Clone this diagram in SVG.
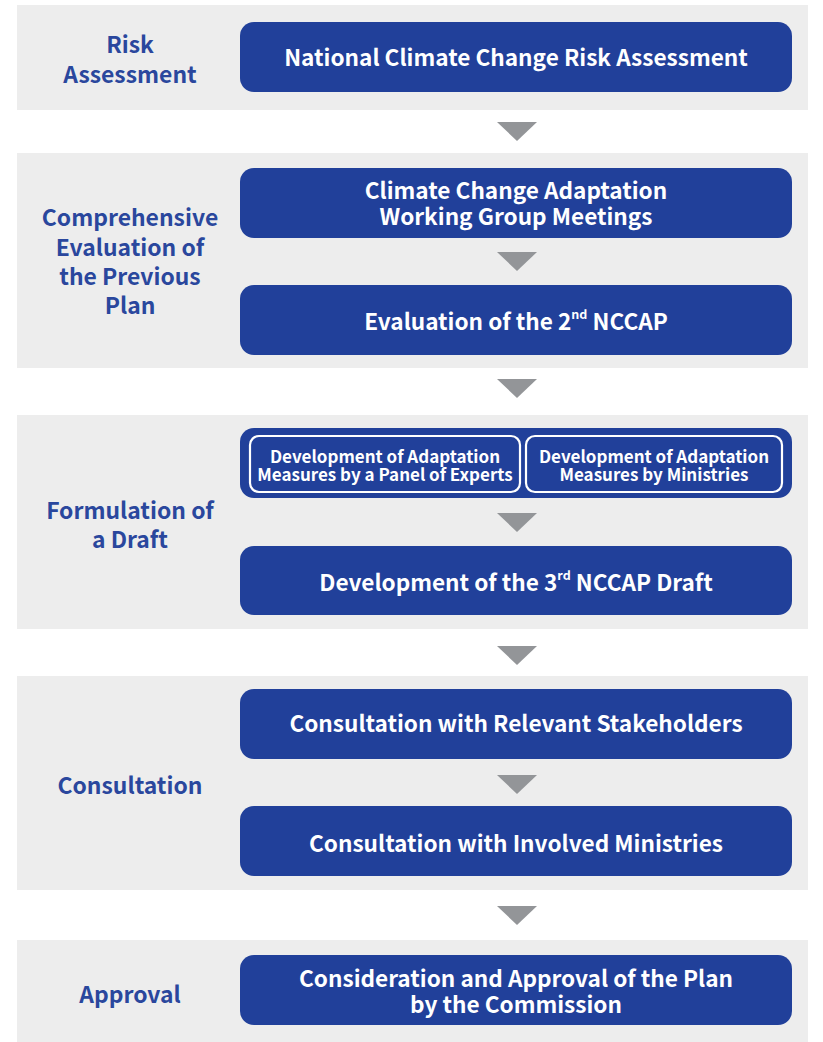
<svg xmlns="http://www.w3.org/2000/svg" width="823" height="1042" viewBox="0 0 823 1042">
<defs>
<style>
.panel{fill:#ededed}
.box{fill:#21409a}
.inner{fill:none;stroke:#ffffff;stroke-width:2.2}
.bt{font-family:"Noto Sans CJK KR","Noto Sans",sans-serif;font-weight:700;font-size:22.6px;fill:#ffffff;text-anchor:middle;dominant-baseline:central}
.st{font-family:"Noto Sans CJK KR","Noto Sans",sans-serif;font-weight:700;font-size:17px;fill:#ffffff;text-anchor:middle;dominant-baseline:central}
.lb{font-family:"Noto Sans CJK KR","Noto Sans",sans-serif;font-weight:700;font-size:22.9px;fill:#2a479d;text-anchor:middle;dominant-baseline:central}
.sup{font-size:12.5px}
.arr{fill:#939598}
</style>
</defs>
<g id="panels">
<rect class="panel" x="17" y="5" width="791" height="105"/>
<rect class="panel" x="17" y="153" width="791" height="215"/>
<rect class="panel" x="17" y="415" width="791" height="214"/>
<rect class="panel" x="17" y="676" width="791" height="214"/>
<rect class="panel" x="17" y="940" width="791" height="102"/>
</g>
<g id="stage-labels">
<text class="lb" x="130" y="43">Risk<tspan x="130" dy="30">Assessment</tspan></text>
<text class="lb" x="130" y="216">Comprehensive<tspan x="130" dy="29.5">Evaluation of</tspan><tspan x="130" dy="29.5">the Previous</tspan><tspan x="130" dy="29">Plan</tspan></text>
<text class="lb" x="130" y="509">Formulation of<tspan x="130" dy="29">a Draft</tspan></text>
<text class="lb" x="130" y="784">Consultation</text>
<text class="lb" x="130" y="993">Approval</text>
</g>
<g id="connectors">
<polygon class="arr" points="497,122 537,122 517,141"/>
<polygon class="arr" points="497,252 537,252 517,271"/>
<polygon class="arr" points="497,379 537,379 517,398"/>
<polygon class="arr" points="497,513 537,513 517,532"/>
<polygon class="arr" points="497,646 537,646 517,665"/>
<polygon class="arr" points="497,775 537,775 517,794"/>
<polygon class="arr" points="497,906 537,906 517,925"/>
</g>
<g id="n1">
<rect class="box" x="240" y="22" width="552" height="70" rx="14"/>
<text class="bt" x="516" y="56">National Climate Change Risk Assessment</text>
</g>
<g id="n2">
<rect class="box" x="240" y="168" width="552" height="70" rx="14"/>
<text class="bt" x="516" y="189">Climate Change Adaptation<tspan x="516" dy="26">Working Group Meetings</tspan></text>
</g>
<g id="n3">
<rect class="box" x="240" y="285" width="552" height="70" rx="14"/>
<text class="bt" x="516" y="320">Evaluation of the 2<tspan class="sup" dy="-7">nd</tspan><tspan dy="7"> NCCAP</tspan></text>
</g>
<g id="n4">
<rect class="box" x="240" y="428" width="552" height="70" rx="14"/>
<rect class="inner" x="250" y="436" width="270" height="56" rx="9"/>
<text class="st" x="385" y="455">Development of Adaptation<tspan x="385" dy="18">Measures by a Panel of Experts</tspan></text>
<rect class="inner" x="526" y="436" width="256" height="56" rx="9"/>
<text class="st" x="654" y="455">Development of Adaptation<tspan x="654" dy="18">Measures by Ministries</tspan></text>
</g>
<g id="n5">
<rect class="box" x="240" y="546" width="552" height="69" rx="14"/>
<text class="bt" x="516" y="581">Development of the 3<tspan class="sup" dy="-7">rd</tspan><tspan dy="7"> NCCAP Draft</tspan></text>
</g>
<g id="n6">
<rect class="box" x="240" y="689" width="552" height="70" rx="14"/>
<text class="bt" x="516" y="722">Consultation with Relevant Stakeholders</text>
</g>
<g id="n7">
<rect class="box" x="240" y="806" width="552" height="70" rx="14"/>
<text class="bt" x="516" y="842">Consultation with Involved Ministries</text>
</g>
<g id="n8">
<rect class="box" x="240" y="955" width="552" height="70" rx="14"/>
<text class="bt" x="516" y="977">Consideration and Approval of the Plan<tspan x="516" dy="26">by the Commission</tspan></text>
</g>
</svg>
